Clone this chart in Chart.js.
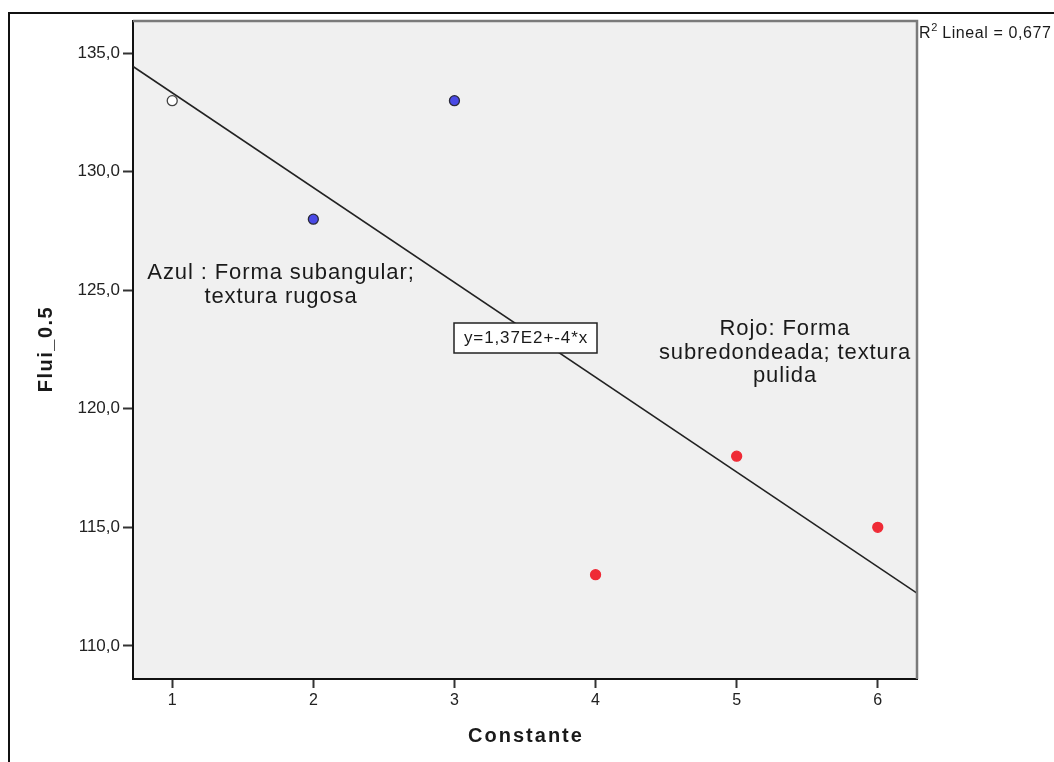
<!DOCTYPE html>
<html>
<head>
<meta charset="utf-8">
<script src="https://cdn.jsdelivr.net/npm/chart.js@4/dist/chart.umd.min.js"></script>
<style>
  html, body { margin: 0; padding: 0; background: #ffffff; }
  #wrap { width: 1054px; height: 762px; position: relative; }
</style>
</head>
<body>
<div id="wrap"><canvas id="c" width="1054" height="762"></canvas></div>
<script>
// Observations: Constante vs Flui_0.5
const constante = [1, 2, 3, 4, 5, 6];
const flui = [133, 128, 133, 113, 118, 115];
// group of each observation: none, blue (subangular/rugosa), red (subredondeada/pulida)
const grupo = ['ninguno', 'azul', 'azul', 'rojo', 'rojo', 'rojo'];

const xTicks = [1, 2, 3, 4, 5, 6];
const yTicks = [110, 115, 120, 125, 130, 135];

const xRange = [0.722, 6.278];
const yRange = [108.6, 136.36];

const fillByGroup = { ninguno: '#ffffff', azul: '#4a4ae6', rojo: '#ef2b36' };
const edgeByGroup = { ninguno: '#444444', azul: '#2a2a3a', rojo: '#ef2b36' };

// Least-squares fit of flui on constante
const n = constante.length;
const mx = constante.reduce((a, b) => a + b, 0) / n;
const my = flui.reduce((a, b) => a + b, 0) / n;
let sxy = 0, sxx = 0, syy = 0;
for (let i = 0; i < n; i++) {
  sxy += (constante[i] - mx) * (flui[i] - my);
  sxx += (constante[i] - mx) ** 2;
  syy += (flui[i] - my) ** 2;
}
const slope = sxy / sxx;
const intercept = my - slope * mx;
const r2 = (sxy * sxy) / (sxx * syy);

const fitLine = xRange.map(x => ({ x: x, y: intercept + slope * x }));

function fmtExp(v) {
  const [m, e] = v.toExponential(2).split('e');
  return m.replace('.', ',') + 'E' + String(parseInt(e, 10));
}
const eqText = 'y=' + fmtExp(intercept) + '+' + String(Math.round(slope)) + '*x';
const r2Text = r2.toFixed(3).replace('.', ',');

const FONT = '"Liberation Sans", Arial, sans-serif';

const decor = {
  id: 'decor',
  beforeDraw(chart) {
    const ctx = chart.ctx, a = chart.chartArea;
    ctx.save();
    ctx.fillStyle = '#ffffff';
    ctx.fillRect(0, 0, chart.width, chart.height);
    // outer frame
    ctx.strokeStyle = '#111111';
    ctx.lineWidth = 2;
    ctx.beginPath();
    ctx.moveTo(9, chart.height + 5);
    ctx.lineTo(9, 13);
    ctx.lineTo(chart.width + 5, 13);
    ctx.stroke();
    // plot background
    ctx.fillStyle = '#f0f0f0';
    ctx.fillRect(a.left, a.top, a.right - a.left, a.bottom - a.top);
    ctx.restore();
  },
  afterDatasetsDraw(chart) {
    const ctx = chart.ctx, a = chart.chartArea;
    ctx.save();
    // top and right plot border
    ctx.strokeStyle = '#7a7a7a';
    ctx.lineWidth = 2.5;
    ctx.beginPath();
    ctx.moveTo(a.left, a.top);
    ctx.lineTo(a.right, a.top);
    ctx.lineTo(a.right, a.bottom);
    ctx.stroke();

    ctx.fillStyle = '#1a1a1a';
    ctx.textAlign = 'center';
    ctx.textBaseline = 'middle';
    ctx.font = '22px ' + FONT;
    ctx.letterSpacing = '0.9px';
    ctx.fillText('Azul : Forma subangular;', 281, 273);
    ctx.fillText('textura rugosa', 281, 297);
    ctx.fillText('Rojo: Forma', 785, 329);
    ctx.fillText('subredondeada; textura', 785, 353);
    ctx.fillText('pulida', 785, 376);

    // equation box
    ctx.fillStyle = '#ffffff';
    ctx.fillRect(454, 323, 143, 30);
    ctx.strokeStyle = '#222222';
    ctx.lineWidth = 1.5;
    ctx.strokeRect(454, 323, 143, 30);
    ctx.fillStyle = '#1a1a1a';
    ctx.font = '17px ' + FONT;
    ctx.letterSpacing = '0.9px';
    ctx.fillText(eqText, 526, 338.5);

    // R2 note
    ctx.textAlign = 'left';
    ctx.font = '16px ' + FONT;
    ctx.letterSpacing = '0.6px';
    ctx.fillText('R', 919, 34);
    const rw = ctx.measureText('R').width;
    ctx.font = '11px ' + FONT;
    ctx.fillText('2', 919 + rw, 28);
    ctx.font = '16px ' + FONT;
    ctx.fillText(' Lineal = ' + r2Text, 919 + rw + 6, 34);

    // axis titles
    ctx.font = 'bold 20px ' + FONT;
    ctx.letterSpacing = '2px';
    ctx.textAlign = 'center';
    ctx.fillText('Constante', 526, 736);
    ctx.letterSpacing = '1.5px';
    ctx.translate(46, 349);
    ctx.rotate(-Math.PI / 2);
    ctx.fillText('Flui_0.5', 0, 0);
    ctx.restore();
  }
};

new Chart(document.getElementById('c'), {
  type: 'scatter',
  data: {
    datasets: [
      {
        label: 'Flui_0.5',
        data: constante.map((x, i) => ({ x: x, y: flui[i] })),
        pointRadius: 5,
        pointBackgroundColor: grupo.map(g => fillByGroup[g]),
        pointBorderColor: grupo.map(g => edgeByGroup[g]),
        pointBorderWidth: 1.3,
        order: 0
      },
      {
        label: 'Lineal',
        type: 'line',
        data: fitLine,
        borderColor: '#222222',
        borderWidth: 1.7,
        pointRadius: 0,
        fill: false,
        order: 1
      }
    ]
  },
  options: {
    responsive: false,
    animation: false,
    events: [],
    layout: { padding: { left: 0, top: 21, right: 137, bottom: 0 } },
    plugins: { legend: { display: false }, tooltip: { enabled: false } },
    scales: {
      x: {
        type: 'linear',
        min: xRange[0],
        max: xRange[1],
        afterBuildTicks(s) { s.ticks = xTicks.map(v => ({ value: v })); },
        afterFit(s) { s.height = 83; },
        border: { display: true, color: '#111111', width: 2 },
        grid: { drawOnChartArea: false, drawTicks: true, tickLength: 9, tickWidth: 2, tickColor: '#333333' },
        ticks: {
          autoSkip: false,
          maxRotation: 0,
          padding: 3,
          color: '#222222',
          font: { family: FONT, size: 16 },
          callback: v => String(v)
        }
      },
      y: {
        type: 'linear',
        min: yRange[0],
        max: yRange[1],
        afterBuildTicks(s) { s.ticks = yTicks.map(v => ({ value: v })); },
        afterFit(s) { s.width = 133; },
        border: { display: true, color: '#111111', width: 2 },
        grid: { drawOnChartArea: false, drawTicks: true, tickLength: 10, tickWidth: 2, tickColor: '#333333' },
        ticks: {
          autoSkip: false,
          padding: 3,
          color: '#222222',
          font: { family: FONT, size: 17 },
          callback: v => v.toFixed(1).replace('.', ',')
        }
      }
    }
  },
  plugins: [decor]
});
</script>
</body>
</html>
